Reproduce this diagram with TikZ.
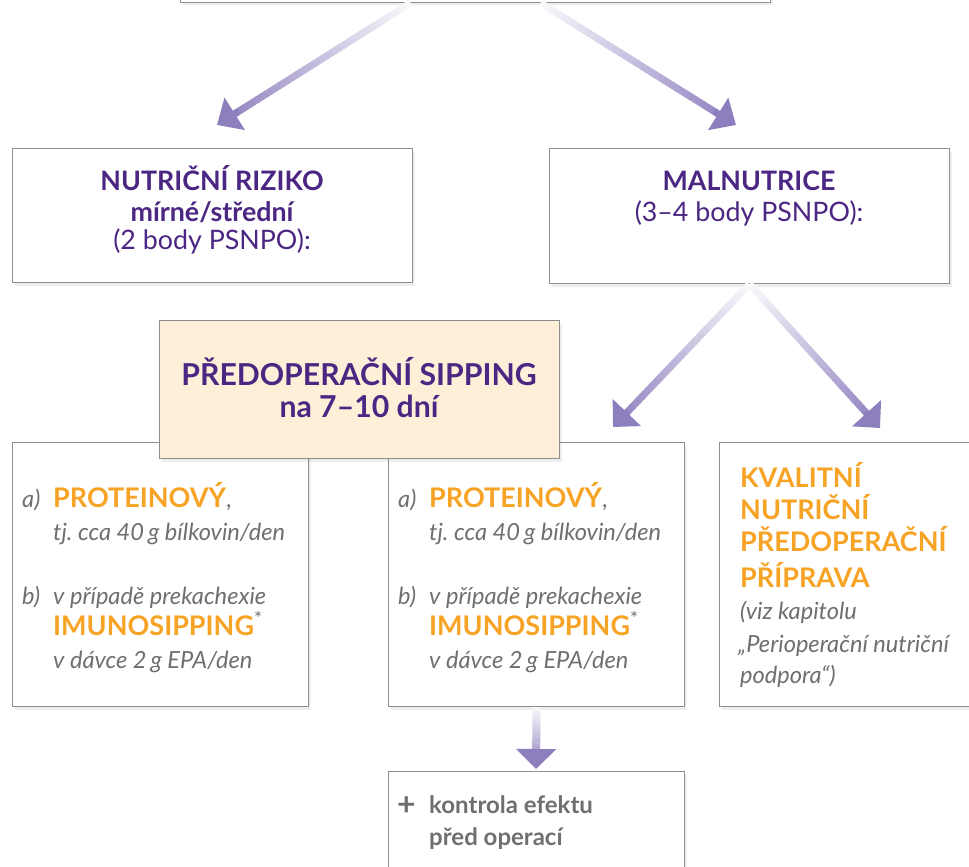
\documentclass[tikz,border=0pt]{standalone}
\usepackage{fontspec}
\setmainfont{Lato}
\usetikzlibrary{arrows.meta,calc,shadows}
\definecolor{purp}{HTML}{4B2682}
\definecolor{orng}{HTML}{F7A325}
\definecolor{gtext}{HTML}{6F6F72}
\definecolor{arrc}{HTML}{8D7EBE}
\definecolor{peach}{HTML}{FEEFD9}
\definecolor{bord}{HTML}{8E8E8E}
\newcommand{\gradarrow}[5]{%
  \foreach \i in {0,...,39}{%
    \pgfmathsetmacro{\ta}{0.9*\i/40}%
    \pgfmathsetmacro{\tb}{0.9*(\i+1.2)/40}%
    \pgfmathsetmacro{\pc}{5+85*\i/39}%
    \draw[line width=#3, arrc!\pc!white] ($(#1)!\ta!(#2)$) -- ($(#1)!\tb!(#2)$);
  }%
  \draw[line width=#3, arrc, -{Triangle[length=#4,width=#5]}] ($(#1)!0.89!(#2)$) -- (#2);
}
\begin{document}
\frenchspacing
\begin{tikzpicture}[x=1pt,y=-1pt,
  boxst/.style={draw=bord, line width=1.1pt, fill=white, inner sep=0pt,
    drop shadow={shadow xshift=2.5pt, shadow yshift=-3pt, opacity=0.13}},
  purpB/.style={text=purp, font=\fontsize{26.8}{30}\selectfont\bfseries, inner sep=0pt},
  purpR/.style={text=purp, font=\fontsize{26.8}{30}\selectfont, inner sep=0pt},
  sipB/.style={text=purp, font=\fontsize{30.2}{34}\selectfont\bfseries, inner sep=0pt},
  orB/.style={text=orng, font=\fontsize{27}{30}\selectfont\bfseries, inner sep=0pt, anchor=base west},
  grI/.style={text=gtext, font=\fontsize{23.6}{27}\selectfont\itshape, inner sep=0pt, anchor=base west},
  grB/.style={text=gtext, font=\fontsize{24}{28}\selectfont\bfseries, inner sep=0pt, anchor=base west}]
\clip (0,0) rectangle (969,867);
\fill[white] (0,0) rectangle (969,867);
% boxes
\node[boxst, anchor=south west, minimum width=590pt, minimum height=60pt] (topbox) at (180,3) {};
\node[boxst, anchor=north west, minimum width=400pt, minimum height=134pt] (nr) at (12,148) {};
\node[boxst, anchor=north west, minimum width=400pt, minimum height=135pt] (mal) at (549,148) {};
\node[boxst, anchor=north west, minimum width=296pt, minimum height=264pt] (lbox) at (12,442) {};
\node[boxst, anchor=north west, minimum width=296pt, minimum height=264pt] (mbox) at (388,442) {};
\node[boxst, anchor=north west, minimum width=300pt, minimum height=264pt] (rbox) at (719,442) {};
\node[boxst, anchor=north west, minimum width=296pt, minimum height=140pt] (bbox) at (388,771) {};
\node[boxst, fill=peach, anchor=north west, minimum width=400pt, minimum height=138pt] (sip) at (159,320) {};
% connectors
\coordinate (s1) at ($(topbox.south)+(-65,0)$);
\coordinate (s2) at ($(topbox.south)+(65,0)$);
\coordinate (t1) at (217,125);
\coordinate (t2) at (736,125);
\coordinate (t3) at (613,427);
\coordinate (t4) at (880,428);
\coordinate (t5) at (536,769);
\gradarrow{s1}{t1}{7pt}{21pt}{37pt}
\gradarrow{s2}{t2}{7pt}{21pt}{37pt}
\gradarrow{mal.south}{t3}{7pt}{20pt}{38pt}
\gradarrow{mal.south}{t4}{7pt}{20pt}{38pt}
\gradarrow{mbox.south}{t5}{8pt}{20pt}{39pt}
% NR box text
\node[purpB, anchor=base] (nr1) at (212,190) {NUTRIČNÍ RIZIKO};
\node[purpB, anchor=base] (nr2) at (212,221) {mírné/střední};
\node[purpR, anchor=base] (nr3) at (212,249) {(2 body PSNPO):};
% MAL text
\node[purpB, anchor=base] (m1) at (749,190) {MALNUTRICE};
\node[purpR, anchor=base] (m2) at (749,221) {(3–4 body PSNPO):};
% sipping text
\node[sipB, anchor=base] (sp1) at (359,385) {PŘEDOPERAČNÍ SIPPING};
\node[sipB, anchor=base] (sp2) at (359,417) {na 7–10 dní};
% left box text
\node[grI] (la) at (22,507) {a)};
\node[orB] (lp) at (53,507) {PROTEINOVÝ\textcolor{gtext}{\fontsize{23.6}{27}\selectfont\mdseries ,}};
\node[grI] (lt) at (53,540) {tj. cca 40\,g bílkovin/den};
\node[grI] (lb) at (22,604) {b)};
\node[grI] (lv) at (53,604) {v případě prekachexie};
\node[orB] (li) at (53,635) {IMUNOSIPPING\textcolor{gtext}{\textsuperscript{\mdseries *}}};
\node[grI] (ld) at (53,668) {v dávce 2\,g EPA/den};
% middle box text
\node[grI] (ma) at (398,507) {a)};
\node[orB] (mp) at (429,507) {PROTEINOVÝ\textcolor{gtext}{\fontsize{23.6}{27}\selectfont\mdseries ,}};
\node[grI] (mt) at (429,540) {tj. cca 40\,g bílkovin/den};
\node[grI] (mb) at (398,604) {b)};
\node[grI] (mv) at (429,604) {v případě prekachexie};
\node[orB] (mi) at (429,635) {IMUNOSIPPING\textcolor{gtext}{\textsuperscript{\mdseries *}}};
\node[grI] (md) at (429,668) {v dávce 2\,g EPA/den};
% right box text
\node[orB] (r1) at (740,487) {KVALITNÍ};
\node[orB] (r2) at (740,519) {NUTRIČNÍ};
\node[orB] (r3) at (740,551) {PŘEDOPERAČNÍ};
\node[orB] (r4) at (740,587) {PŘÍPRAVA};
\node[grI] (r5) at (740,619) {(viz kapitolu};
\node[grI] (r6) at (738,652) {„Perioperační nutriční};
\node[grI] (r7) at (740,683) {podpora“)};
% bottom box text
\node[grB, font=\fontsize{32}{34}\selectfont\bfseries] (bp) at (397,815) {+};
\node[grB] (b1) at (429,813) {kontrola efektu};
\node[grB] (b2) at (429,845) {před operací};
\end{tikzpicture}
\end{document}
